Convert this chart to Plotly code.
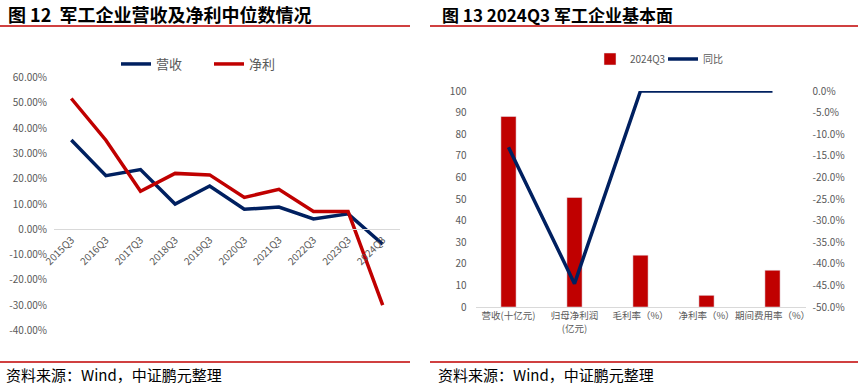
import plotly.graph_objects as go

# ---------------- data ----------------
quarters = ["2015Q3", "2016Q3", "2017Q3", "2018Q3", "2019Q3",
            "2020Q3", "2021Q3", "2022Q3", "2023Q3", "2024Q3"]
revenue_median = [35.3, 21.2, 23.6, 10.0, 17.1, 7.9, 8.8, 4.1, 6.1, -5.9]
profit_median = [51.7, 35.2, 15.0, 22.1, 21.5, 12.6, 15.8, 7.0, 7.0, -30.0]
left_ticks = [-40, -30, -20, -10, 0, 10, 20, 30, 40, 50, 60]
left_ticktext = ["-40.00%", "-30.00%", "-20.00%", "-10.00%", "0.00%", "10.00%",
                 "20.00%", "30.00%", "40.00%", "50.00%", "60.00%"]

items = ["营收(十亿元)", "归母净利润<br>(亿元)", "毛利率（%）", "净利率（%）", "期间费用率（%）"]
values_2024q3 = [88.2, 50.7, 24.0, 5.4, 17.0]
yoy = [-13.0, -44.6, 0.0, 0.0, 0.0]
right_ticks = [-50, -45, -40, -35, -30, -25, -20, -15, -10, -5, 0]
right_ticktext = ["-50.0%", "-45.0%", "-40.0%", "-35.0%", "-30.0%", "-25.0%",
                  "-20.0%", "-15.0%", "-10.0%", "-5.0%", "0.0%"]

NAVY = "#002060"
RED = "#C00000"
GRAY = "#595959"
FONT = "Noto Sans CJK SC"
W, H = 861, 385


def px(x):
    return x / W


def py(y):
    return 1 - y / H


fig = go.Figure()
fig.add_trace(go.Scatter(x=quarters, y=revenue_median, name="营收", mode="lines",
                         line=dict(color=NAVY, width=3.5), xaxis="x", yaxis="y",
                         legend="legend"))
fig.add_trace(go.Scatter(x=quarters, y=profit_median, name="净利", mode="lines",
                         line=dict(color=RED, width=3.5), xaxis="x", yaxis="y",
                         legend="legend"))
fig.add_trace(go.Bar(x=items, y=values_2024q3, name="2024Q3", marker_color=RED,
                     width=0.23, xaxis="x2", yaxis="y3", legend="legend2"))
fig.add_trace(go.Scatter(x=items, y=yoy, name="同比", mode="lines",
                         line=dict(color=NAVY, width=3.5), xaxis="x2", yaxis="y4",
                         legend="legend2"))

tickfont = dict(family=FONT, size=10, color=GRAY)

fig.update_layout(
    width=W, height=H,
    margin=dict(l=0, r=0, t=0, b=0, autoexpand=False),
    paper_bgcolor="white", plot_bgcolor="rgba(0,0,0,0)",
    font=dict(family=FONT, color=GRAY),
    xaxis=dict(domain=[px(54), px(400)], anchor="free", position=py(229.3),
               type="category", range=[-0.5, 9.5], tickangle=-45,
               showline=True, linecolor="#D9D9D9", linewidth=1,
               showgrid=False, zeroline=False, ticks="", tickfont=tickfont,
               automargin=False),
    yaxis=dict(domain=[py(330.5), py(77.5)], range=[-40, 60], anchor="x",
               tickvals=left_ticks, ticktext=left_ticktext,
               showgrid=False, zeroline=False, showline=False, ticks="",
               tickfont=tickfont, ticklabelstandoff=6, automargin=False),
    xaxis2=dict(domain=[px(475.5), px(805.5)], anchor="y3", type="category",
                range=[-0.5, 4.5], showline=True, linecolor="#D9D9D9",
                linewidth=1, showgrid=False, zeroline=False, ticks="",
                tickangle=0, tickfont=dict(family=FONT, size=9.5, color=GRAY),
                automargin=False),
    yaxis3=dict(domain=[py(307), py(91)], range=[0, 100], dtick=10,
                anchor="x2", showgrid=False, zeroline=False, ticks="",
                tickfont=tickfont, ticklabelstandoff=8, automargin=False),
    yaxis4=dict(overlaying="y3", side="right", anchor="x2", range=[-50, 0],
                tickvals=right_ticks, ticktext=right_ticktext,
                showgrid=False, zeroline=False, ticks="", tickfont=tickfont,
                ticklabelstandoff=6, automargin=False),
    legend=dict(orientation="h", x=px(116), y=py(64), xanchor="left",
                yanchor="middle", font=dict(family=FONT, size=13, color=GRAY),
                bgcolor="rgba(0,0,0,0)", itemwidth=30, entrywidth=48,
                tracegroupgap=0),
    legend2=dict(orientation="h", x=px(590), y=py(59), xanchor="left",
                 yanchor="middle", font=dict(family=FONT, size=10, color=GRAY),
                 bgcolor="rgba(0,0,0,0)", itemwidth=30, entrywidth=28),
    showlegend=True,
)

# titles
fig.add_annotation(text="<b>图 12  军工企业营收及净利中位数情况</b>", x=px(6), y=py(14),
                   xref="paper", yref="paper", xanchor="left", yanchor="middle",
                   showarrow=False, font=dict(family=FONT, size=18, color="black"))
fig.add_annotation(text="<b>图 13 2024Q3 军工企业基本面</b>", x=px(440), y=py(14),
                   xref="paper", yref="paper", xanchor="left", yanchor="middle",
                   showarrow=False, font=dict(family=FONT, size=17, color="black"))
# sources
for x0 in (4, 436):
    fig.add_annotation(text="资料来源：Wind，中证鹏元整理", x=px(x0), y=py(374),
                       xref="paper", yref="paper", xanchor="left", yanchor="middle",
                       showarrow=False, font=dict(family=FONT, size=15, color="black"))

# red rules
for (x0, x1) in ((0, 410), (430, 858)):
    for yy in (26, 362):
        fig.add_shape(type="line", xref="paper", yref="paper",
                      x0=px(x0), x1=px(x1), y0=py(yy), y1=py(yy),
                      line=dict(color=RED, width=1.5))

fig.write_html("out.html", config={"displayModeBar": False},
               post_script="document.body.style.margin='0';document.body.style.overflow='hidden';")
